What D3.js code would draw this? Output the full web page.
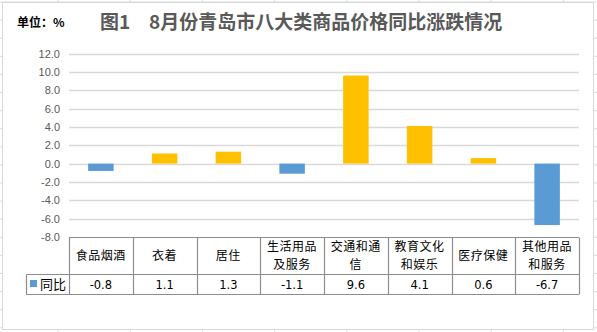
<!DOCTYPE html>
<html>
<head>
  <meta charset="utf-8">
  <script src="https://cdn.jsdelivr.net/npm/d3@7/dist/d3.min.js"></script>
  <style>
    body { margin: 0; background: #fff; }
    text { font-family: "Noto Sans CJK SC", "Noto Sans", sans-serif; }
  </style>
</head>
<body>
<script>
  // categories (table header lines) and values
  var categories = ["食品烟酒", "衣着", "居住", "生活用品及服务", "交通和通信", "教育文化和娱乐", "医疗保健", "其他用品和服务"];
  var categoryLines = [["食品烟酒"], ["衣着"], ["居住"], ["生活用品", "及服务"], ["交通和通", "信"], ["教育文化", "和娱乐"], ["医疗保健"], ["其他用品", "和服务"]];
  var values = [-0.8, 1.1, 1.3, -1.1, 9.6, 4.1, 0.6, -6.7];
  var yTicks = [-8, -6, -4, -2, 0, 2, 4, 6, 8, 10, 12];
  var seriesName = "同比";

  var width = 597, height = 332;

  var svg = d3.select("body").append("svg")
      .attr("width", width)
      .attr("height", height);

  // spreadsheet grid behind the chart
  var gridColor = "#dadcdd";
  d3.range(58, width, 72.2).forEach(function(x){
    svg.append("line").attr("x1", x).attr("x2", x).attr("y1", 0).attr("y2", height)
       .style("stroke", gridColor);
  });
  d3.range(2, height, 18.1).forEach(function(y){
    svg.append("line").attr("x1", 0).attr("x2", width).attr("y1", y).attr("y2", y)
       .style("stroke", gridColor);
  });

  // chart frame
  svg.append("rect")
     .attr("x", 2.5).attr("y", 2.5)
     .attr("width", 591).attr("height", 327)
     .style("fill", "#fff")
     .style("stroke", "#d9d9d9");

  var plot = { left: 69, right: 579 };

  var x = d3.scaleBand()
      .domain(categories)
      .range([plot.left, plot.right])
      .paddingInner(0.6)
      .paddingOuter(0.3);

  var xCell = d3.scaleBand()
      .domain(categories)
      .range([plot.left, plot.right]);

  var y = d3.scaleLinear()
      .domain([-8, 12])
      .range([237, 53.5]);

  // gridlines
  svg.selectAll(".grid")
     .data(yTicks.filter(function(d){ return d > -8; }))
     .enter().append("line")
     .attr("x1", plot.left).attr("x2", plot.right)
     .attr("y1", function(d){ return Math.round(y(d)) + 0.5; })
     .attr("y2", function(d){ return Math.round(y(d)) + 0.5; })
     .style("stroke", "#d9d9d9")
     .style("stroke-width", 1.3);

  // y tick labels
  svg.selectAll(".ytick")
     .data(yTicks)
     .enter().append("text")
     .attr("x", 60)
     .attr("y", function(d){ return y(d) + 4; })
     .attr("text-anchor", "end")
     .style("font-family", "'Liberation Sans', Arial, sans-serif")
     .style("font-size", "11px")
     .style("fill", "#595959")
     .text(function(d){ return d.toFixed(1); });

  // bars
  svg.selectAll(".bar")
     .data(values)
     .enter().append("rect")
     .attr("x", function(d, i){ return x(categories[i]); })
     .attr("width", x.bandwidth())
     .attr("y", function(d){ return y(Math.max(0, d)); })
     .attr("height", function(d){ return Math.abs(y(d) - y(0)); })
     .style("fill", function(d){ return d < 0 ? "#5b9bd5" : "#ffc000"; });

  // data table
  var tTop = 237.5, tMid = 274.5, tBot = 294.5, legendLeft = 26.5;
  var tableColor = "#8c8c8c";
  var table = svg.append("g").style("stroke", tableColor).style("stroke-width", 1.2);
  table.append("line").attr("x1", plot.left).attr("x2", plot.right).attr("y1", tTop).attr("y2", tTop);
  table.append("line").attr("x1", legendLeft).attr("x2", plot.right).attr("y1", tMid).attr("y2", tMid);
  table.append("line").attr("x1", legendLeft).attr("x2", plot.right).attr("y1", tBot).attr("y2", tBot);
  table.append("line").attr("x1", legendLeft).attr("x2", legendLeft).attr("y1", tMid).attr("y2", tBot);
  categories.forEach(function(c){
    var cx = Math.round(xCell(c)) + 0.5;
    table.append("line").attr("x1", cx).attr("x2", cx).attr("y1", tTop).attr("y2", tBot);
  });
  table.append("line").attr("x1", plot.right + 0.5).attr("x2", plot.right + 0.5).attr("y1", tTop).attr("y2", tBot);

  // header labels, one text per line
  categories.forEach(function(c, i){
    var lines = categoryLines[i];
    var cx = xCell(c) + xCell.bandwidth() / 2;
    lines.forEach(function(l, j){
      svg.append("text")
         .attr("x", cx)
         .attr("y", lines.length === 1 ? 260 : 251 + j * 17.5)
         .attr("text-anchor", "middle")
         .style("font-size", "12px")
         .style("letter-spacing", "0.5px")
         .style("fill", "#000")
         .text(l);
    });
  });

  // value row
  svg.selectAll(".val")
     .data(values)
     .enter().append("text")
     .attr("x", function(d, i){ return xCell(categories[i]) + xCell.bandwidth() / 2; })
     .attr("y", 289)
     .attr("text-anchor", "middle")
     .style("font-family", "'DejaVu Sans', sans-serif")
     .style("font-size", "11.5px")
     .style("fill", "#000")
     .text(function(d){ return d.toFixed(1); });

  // legend key
  svg.append("rect")
     .attr("x", 30).attr("y", 280)
     .attr("width", 7).attr("height", 7)
     .style("fill", "#5b9bd5");
  svg.append("text")
     .attr("x", 40).attr("y", 289)
     .style("font-size", "13px")
     .style("fill", "#000")
     .text(seriesName);

  // unit and title
  svg.append("text")
     .attr("x", 17).attr("y", 27)
     .style("font-size", "12px")
     .style("font-weight", "bold")
     .style("fill", "#000")
     .text("单位：%");

  svg.append("text")
     .attr("x", 100).attr("y", 29)
     .style("font-size", "19px")
     .style("font-weight", "bold")
     .style("fill", "#595959")
     .text("图1");

  svg.append("text")
     .attr("x", 149).attr("y", 29)
     .style("font-size", "19px")
     .style("font-weight", "bold")
     .style("fill", "#595959")
     .text("8月份青岛市八大类商品价格同比涨跌情况");
</script>
</body>
</html>
